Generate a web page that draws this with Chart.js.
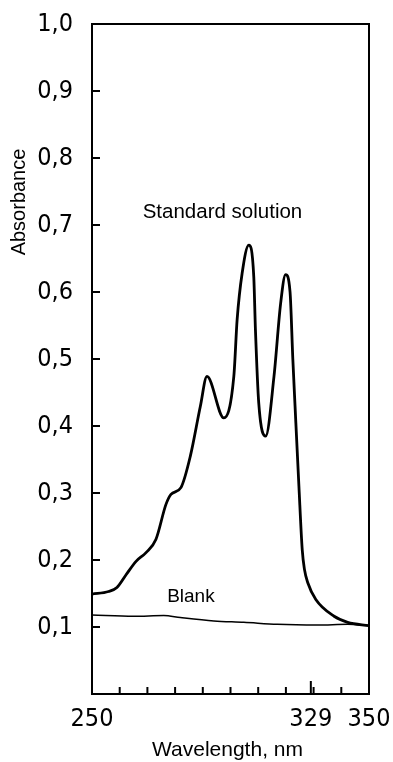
<!DOCTYPE html>
<html>
<head>
<meta charset="utf-8">
<script src="https://cdn.jsdelivr.net/npm/chart.js@4"></script>
<style>
  html, body { margin: 0; padding: 0; background: #fff; }
  #wrap { width: 393px; height: 762px; }
</style>
</head>
<body>
<div id="wrap"><canvas id="chart"></canvas></div>
<script>
// absorbance spectrum
const stdWavelength = [250, 256, 259, 262.3, 265.9, 269.5, 273.1, 276.7, 278.5, 282.1, 285.5, 289.1, 291.5, 297.6, 301.2, 302.4, 304.2, 306.6, 308.4, 309, 310.2, 312.7, 315.7, 318.1, 319.9, 321.5, 322.5, 323.3, 324.7, 325.9, 326.7, 327.9, 330.8, 337.4, 342.3, 350];
const stdAbsorbance = [0.149, 0.153, 0.159, 0.178, 0.198, 0.211, 0.231, 0.283, 0.298, 0.308, 0.355, 0.429, 0.474, 0.412, 0.474, 0.559, 0.628, 0.67, 0.623, 0.544, 0.434, 0.385, 0.474, 0.583, 0.626, 0.6, 0.5, 0.43, 0.31, 0.215, 0.186, 0.166, 0.141, 0.116, 0.107, 0.102];
const blankWavelength = [250, 265, 275.9, 281.9, 294, 304.8, 316.9, 331.4, 342.3, 350];
const blankAbsorbance = [0.118, 0.116, 0.117, 0.114, 0.109, 0.107, 0.104, 0.103, 0.104, 0.102];

const yTicks = [0.1, 0.2, 0.3, 0.4, 0.5, 0.6, 0.7, 0.8, 0.9, 1.0];
const xLabelTicks = [250, 329, 350];
const xMinorTicks = [260, 270, 280, 290, 300, 310, 320, 330, 340];

const numFont = '"Liberation Sans Narrow", "DejaVu Sans Condensed", "Liberation Sans", sans-serif';
const textFont = '"Liberation Sans", Arial, sans-serif';

function toPoints(xs, ys) {
  return xs.map((x, i) => ({ x: x, y: ys[i] }));
}

// frame, inner ticks and the text labels
const decorations = {
  id: 'decorations',
  afterDraw(chart) {
    const ctx = chart.ctx;
    const a = chart.chartArea;
    const xs = chart.scales.x, ys = chart.scales.y;
    ctx.save();
    ctx.strokeStyle = '#000';
    ctx.lineWidth = 2;
    ctx.strokeRect(a.left, a.top, a.right - a.left, a.bottom - a.top);
    ctx.beginPath();
    yTicks.forEach(v => {
      const py = ys.getPixelForValue(v);
      ctx.moveTo(a.left, py);
      ctx.lineTo(a.left + 8, py);
    });
    xMinorTicks.forEach(v => {
      const px = xs.getPixelForValue(v);
      ctx.moveTo(px, a.bottom);
      ctx.lineTo(px, a.bottom - 7);
    });
    const p329 = xs.getPixelForValue(329);
    ctx.moveTo(p329, a.bottom);
    ctx.lineTo(p329, a.bottom - 13);
    ctx.stroke();

    ctx.fillStyle = '#000';
    ctx.textAlign = 'center';
    ctx.textBaseline = 'alphabetic';
    ctx.font = '20.5px ' + textFont;
    ctx.fillText('Standard solution', xs.getPixelForValue(297.1), ys.getPixelForValue(0.71));
    ctx.font = '19px ' + textFont;
    ctx.fillText('Blank', xs.getPixelForValue(285.7), ys.getPixelForValue(0.138));
    ctx.font = '21px ' + textFont;
    ctx.fillText('Wavelength, nm', 227.5, 756);
    ctx.translate(25, 202);
    ctx.rotate(-Math.PI / 2);
    ctx.font = '20px ' + textFont;
    ctx.fillText('Absorbance', 0, 0);
    ctx.restore();
  }
};

new Chart(document.getElementById('chart'), {
  type: 'line',
  data: {
    datasets: [
      {
        label: 'Standard solution',
        data: toPoints(stdWavelength, stdAbsorbance),
        borderColor: '#000',
        borderWidth: 2.8,
        pointRadius: 0,
        cubicInterpolationMode: 'monotone'
      },
      {
        label: 'Blank',
        data: toPoints(blankWavelength, blankAbsorbance),
        borderColor: '#000',
        borderWidth: 1.5,
        pointRadius: 0,
        cubicInterpolationMode: 'monotone'
      }
    ]
  },
  options: {
    responsive: true,
    maintainAspectRatio: false,
    animation: false,
    layout: { padding: { top: 24, right: 24, left: 0, bottom: 0 } },
    plugins: { legend: { display: false }, tooltip: { enabled: false } },
    scales: {
      x: {
        type: 'linear',
        min: 250,
        max: 350,
        grid: { display: false },
        border: { display: false },
        afterBuildTicks: s => { s.ticks = xLabelTicks.map(v => ({ value: v })); },
        afterFit: s => { s.height = 68; s.paddingLeft = 0; s.paddingRight = 0; },
        ticks: {
          autoSkip: false,
          maxRotation: 0,
          padding: 2,
          color: '#000',
          font: { family: numFont, size: 25 }
        }
      },
      y: {
        min: 0,
        max: 1,
        grid: { display: false },
        border: { display: false },
        afterFit: s => { s.width = 92; s.paddingTop = 0; s.paddingBottom = 0; },
        ticks: {
          stepSize: 0.1,
          padding: 11,
          color: '#000',
          font: { family: numFont, size: 25 },
          callback: v => v < 0.05 ? '' : v.toFixed(1).replace('.', ',')
        }
      }
    }
  },
  plugins: [decorations]
});
</script>
</body>
</html>
